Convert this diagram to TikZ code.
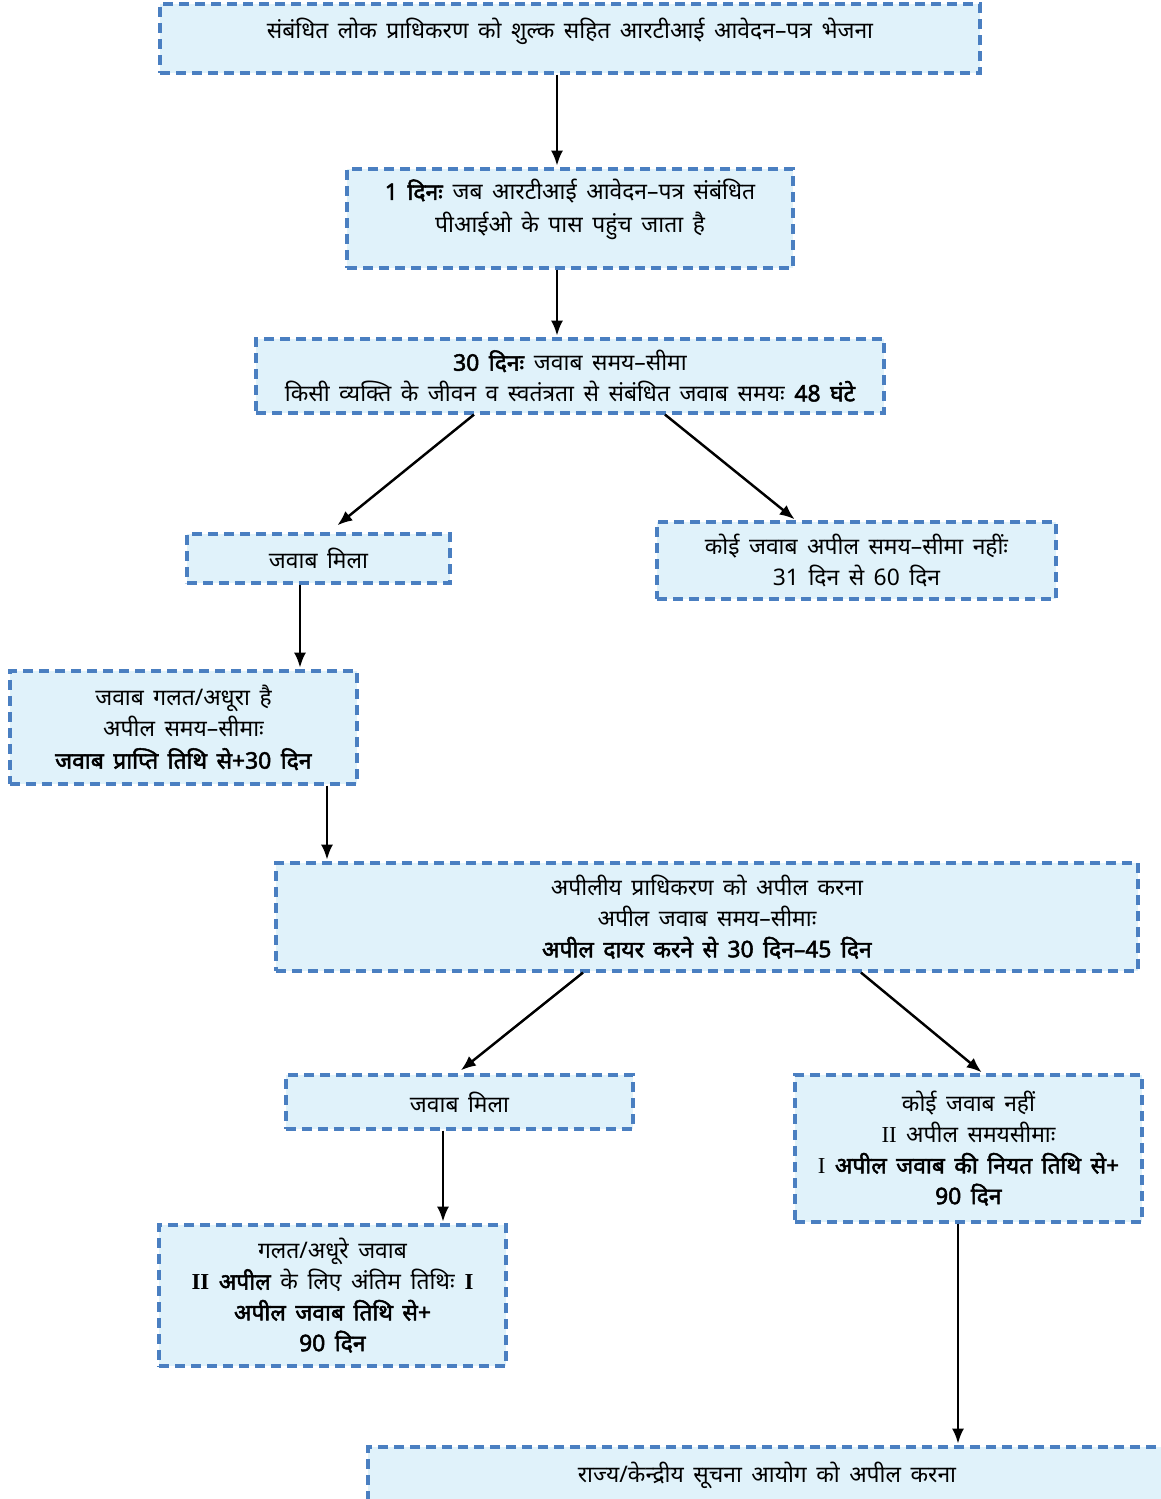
\documentclass[tikz,border=0pt]{standalone}
\usepackage{fontspec}
\usepackage{tikz}
\usetikzlibrary{arrows.meta,positioning,calc}
\setmainfont[Script=Devanagari, WordSpace=1.6, BoldFont={Noto Sans}, BoldFeatures={FakeBold=2.2}]{Noto Sans}
\newfontfamily\romanno{Liberation Serif}
\definecolor{boxFill}{HTML}{E0F2FA}
\definecolor{boxEdge}{HTML}{4A7FC1}
\newcommand{\rn}[1]{{\romanno #1}}

\begin{document}
\begin{tikzpicture}[
  infobox/.style={draw=boxEdge, fill=boxFill, line width=1.8pt,
    dash pattern=on 0.2cm off 0.12cm, align=center, inner sep=2pt,
    font=\fontsize{13}{17.5}\selectfont},
  flowarrow/.style={-{Latex[length=0.3cm,width=0.24cm]}, line width=1.4pt, shorten >=1pt}
]
  \useasboundingbox (0,0) rectangle (23.22,-29.98);
  % Boxes, top to bottom
  \node[infobox, minimum width=16.4cm, minimum height=1.38cm] (apply) at (11.40,-0.77)
    {\raisebox{0.14cm}[\height][\depth]{संबंधित लोक प्राधिकरण को शुल्क सहित आरटीआई आवेदन–पत्र भेजना}};
  \node[infobox, minimum width=8.92cm, minimum height=1.98cm] (pio) at (11.40,-4.37)
    {\raisebox{0.17cm}[\height][\depth]{\begin{tabular}{@{}c@{}}\textbf{1 दिनः} जब आरटीआई आवेदन–पत्र संबंधित\\[1pt] पीआईओ के पास पहुंच जाता है\end{tabular}}};
  \node[infobox, minimum width=12.56cm, minimum height=1.48cm] (limit) at (11.40,-7.52)
    {\textbf{30 दिनः} जवाब समय–सीमा\\ किसी व्यक्ति के जीवन व स्वतंत्रता से संबंधित जवाब समयः \textbf{48 घंटे}};
  \node[infobox, minimum width=5.26cm, minimum height=0.98cm] (gotreply) at (6.37,-11.17)
    {जवाब मिला};
  \node[infobox, minimum width=7.98cm, minimum height=1.54cm] (noreply) at (17.13,-11.21)
    {कोई जवाब अपील समय–सीमा नहींः\\ 31 दिन से 60 दिन};
  \node[infobox, minimum width=6.94cm, minimum height=2.26cm] (wrong) at (3.67,-14.55)
    {जवाब गलत/अधूरा है\\ अपील समय–सीमाः\\[1pt] \textbf{जवाब प्राप्ति तिथि से+30 दिन}};
  \node[infobox, minimum width=17.24cm, minimum height=2.16cm] (firstappeal) at (14.14,-18.34)
    {अपीलीय प्राधिकरण को अपील करना\\ अपील जवाब समय–सीमाः\\ \textbf{अपील दायर करने से 30 दिन–45 दिन}};
  \node[infobox, minimum width=6.94cm, minimum height=1.08cm] (gotappeal) at (9.19,-22.04)
    {जवाब मिला};
  \node[infobox, minimum width=6.94cm, minimum height=2.94cm] (noappeal) at (19.37,-22.97)
    {कोई जवाब नहीं\\ \rn{II} अपील समयसीमाः\\ \textbf{{\mdseries\rn{I}} अपील जवाब की नियत तिथि से+}\\ \textbf{90 दिन}};
  \node[infobox, minimum width=6.94cm, minimum height=2.82cm] (wrongappeal) at (6.65,-25.91)
    {गलत/अधूरे जवाब\\ \textbf{\rn{II} अपील} के लिए अंतिम तिथिः \textbf{\rn{I}}\\ \textbf{अपील जवाब तिथि से+}\\ \textbf{90 दिन}};
  \node[infobox, minimum width=15.96cm, minimum height=1.12cm] (commission) at (15.34,-29.50)
    {राज्य/केन्द्रीय सूचना आयोग को अपील करना};
  % Arrows
  \draw[flowarrow] ([xshift=-0.26cm]apply.south) -- ([xshift=-0.26cm]pio.north);
  \draw[flowarrow] ([xshift=-0.26cm]pio.south) -- ([xshift=-0.26cm]limit.north);
  \draw[flowarrow] ([xshift=-1.92cm]limit.south) -- ([xshift=0.35cm,yshift=0.12cm]gotreply.north);
  \draw[flowarrow] ([xshift=1.9cm]limit.south) -- ([xshift=-1.21cm]noreply.north);
  \draw[flowarrow] ([xshift=-0.37cm]gotreply.south) -- ([xshift=-0.37cm]gotreply.south |- wrong.north);
  \draw[flowarrow] ([xshift=2.87cm]wrong.south) -- ([xshift=2.87cm]wrong.south |- firstappeal.north);
  \draw[flowarrow] ([xshift=-2.48cm]firstappeal.south) -- ([yshift=0.04cm]gotappeal.north);
  \draw[flowarrow] ([xshift=3.08cm]firstappeal.south) -- ([xshift=0.29cm]noappeal.north);
  \draw[flowarrow] ([xshift=-0.33cm]gotappeal.south) -- ([xshift=-0.33cm]gotappeal.south |- wrongappeal.north);
  \draw[flowarrow] ([xshift=-0.21cm]noappeal.south) -- ([xshift=-0.21cm]noappeal.south |- commission.north);
\end{tikzpicture}
\end{document}
